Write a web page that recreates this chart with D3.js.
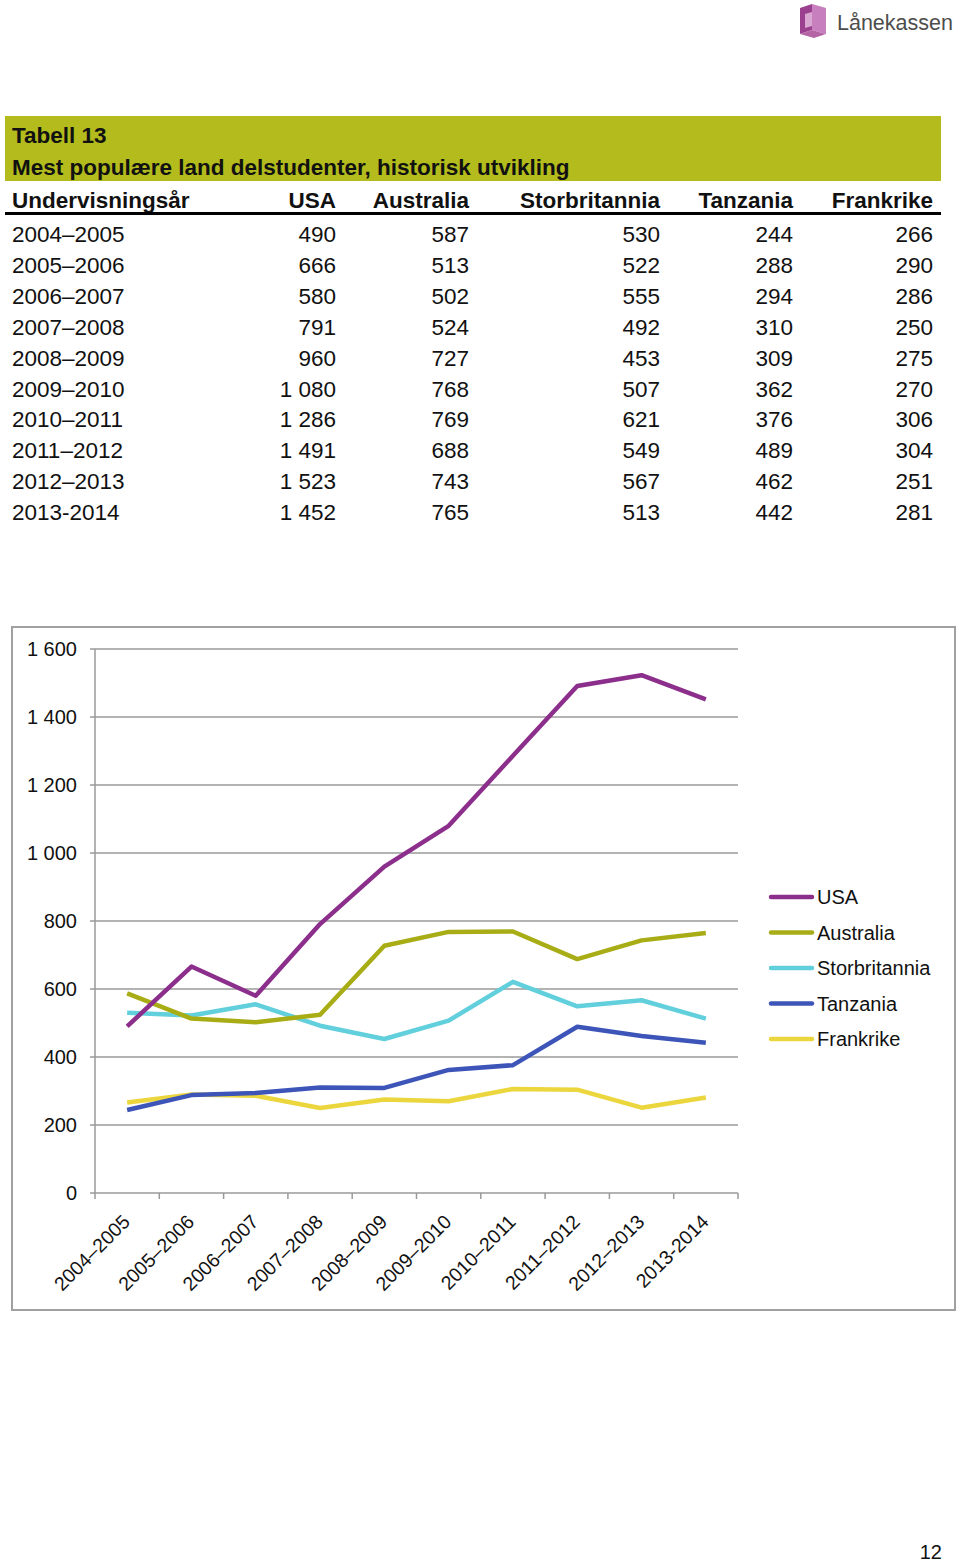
<!DOCTYPE html>
<html><head><meta charset="utf-8">
<script src="https://cdn.jsdelivr.net/npm/d3@7"></script>
<style>
html,body{margin:0;padding:0;background:#fff;}
svg{display:block;font-family:"Liberation Sans",Arial,sans-serif;}
</style></head>
<body>
<svg id="c" width="960" height="1564"></svg>
<script>
const categories = ["2004–2005","2005–2006","2006–2007","2007–2008","2008–2009","2009–2010","2010–2011","2011–2012","2012–2013","2013-2014"];
const seriesNames = ["USA","Australia","Storbritannia","Tanzania","Frankrike"];
const usa = [490,666,580,791,960,1080,1286,1491,1523,1452];
const australia = [587,513,502,524,727,768,769,688,743,765];
const storbritannia = [530,522,555,492,453,507,621,549,567,513];
const tanzania = [244,288,294,310,309,362,376,489,462,442];
const frankrike = [266,290,286,250,275,270,306,304,251,281];
const colors = ["#8c2f8c","#a8ad16","#62cfdc","#3d55b8","#ecd63e"];
const yTicks = [0,200,400,600,800,1000,1200,1400,1600];
const titleLines = ["Tabell 13","Mest populære land delstudenter, historisk utvikling"];
const headerLabel = "Undervisningsår";

const values = [usa,australia,storbritannia,tanzania,frankrike];
const fmt = v => d3.format(",")(v).replace(/,/g," ");

const svg = d3.select("#c");

// Logo
const logo = svg.append("g");
logo.append("path").attr("d","M800,8 L812,4 L812,30 L800,34 Z").attr("fill","#9b3f8f");
logo.append("path").attr("d","M812,4 L826,8 L826,34 L812,30 Z").attr("fill","#c77fbd");
logo.append("path").attr("d","M800,34 L812,30 L826,34 L814,38 Z").attr("fill","#b565a6");
logo.append("path").attr("d","M805,14 L812,12 L812,26 L805,28 Z").attr("fill","#d9a7d1");
logo.append("text").attr("x",837).attr("y",30).attr("font-size",21.5).attr("fill","#4d4d4d").text("Lånekassen");

// Table
const tx0 = 5, tx1 = 941;
svg.append("rect").attr("x",tx0).attr("y",116).attr("width",tx1-tx0).attr("height",65).attr("fill","#b3bc1c");
svg.selectAll(".tt").data(titleLines).enter().append("text")
  .attr("x",12).attr("y",(d,i)=>143+i*32).attr("font-size",22.5).attr("font-weight","bold").attr("fill","#111").text(d=>d);

const colRight = [336,469,660,793,933];
const hdr = svg.append("g").attr("font-size",22.5).attr("font-weight","bold").attr("fill","#111");
hdr.append("text").attr("x",12).attr("y",208).text(headerLabel);
seriesNames.forEach((n,i)=>hdr.append("text").attr("x",colRight[i]).attr("y",208).attr("text-anchor","end").text(n));
svg.append("rect").attr("x",tx0).attr("y",212).attr("width",tx1-tx0).attr("height",3).attr("fill","#000");

const rowY = i => 242 + i*30.9;
const body = svg.append("g").attr("font-size",22.5).attr("fill","#111");
categories.forEach((c,r)=>{
  body.append("text").attr("x",12).attr("y",rowY(r)).text(c);
  values.forEach((vals,s)=>body.append("text").attr("x",colRight[s]).attr("y",rowY(r)).attr("text-anchor","end").text(fmt(vals[r])));
});

// Chart
svg.append("rect").attr("x",12).attr("y",627).attr("width",943).attr("height",683)
  .attr("fill","none").attr("stroke","#a0a0a0").attr("stroke-width",2);

const x = d3.scaleBand().domain(categories).range([95,738]);
const y = d3.scaleLinear().domain([0,1600]).range([1193,649]);
const grid = "#9a9a9a";

const g = svg.append("g");
g.selectAll(".grid").data(yTicks.filter(t=>t>0)).enter().append("line")
  .attr("x1",90).attr("x2",738).attr("y1",d=>y(d)).attr("y2",d=>y(d))
  .attr("stroke",grid).attr("stroke-width",1.5);
g.append("line").attr("x1",95).attr("x2",95).attr("y1",y(1600)).attr("y2",y(0)).attr("stroke",grid).attr("stroke-width",1.5);
g.append("line").attr("x1",90).attr("x2",738).attr("y1",y(0)).attr("y2",y(0)).attr("stroke",grid).attr("stroke-width",1.5);
const bounds = categories.map(c=>x(c)).concat([x.range()[1]]);
g.selectAll(".xt").data(bounds).enter().append("line")
  .attr("x1",d=>d).attr("x2",d=>d).attr("y1",y(0)).attr("y2",y(0)+6).attr("stroke",grid).attr("stroke-width",1.5);
g.selectAll(".yl").data(yTicks).enter().append("text")
  .attr("x",77).attr("y",d=>y(d)).attr("dy","0.36em").attr("text-anchor","end")
  .attr("font-size",20).attr("fill","#111").text(d=>fmt(d));
g.selectAll(".xl").data(categories).enter().append("text")
  .attr("transform",d=>`translate(${x(d)+x.bandwidth()/2+4},1223) rotate(-45)`)
  .attr("text-anchor","end").attr("font-size",19.5).attr("fill","#111").text(d=>d);

const line = d3.line().x((d,i)=>x(categories[i])+x.bandwidth()/2).y(d=>y(d));
for (let s = values.length-1; s>=0; s--) {
  g.append("path").datum(values[s]).attr("d",line).attr("fill","none")
   .attr("stroke",colors[s]).attr("stroke-width",4.5).attr("stroke-linejoin","round");
}

// legend
const lg = svg.append("g");
seriesNames.forEach((n,i)=>{
  const ly = 897 + i*35.5;
  lg.append("line").attr("x1",771).attr("x2",812).attr("y1",ly).attr("y2",ly)
    .attr("stroke",colors[i]).attr("stroke-width",4.5).attr("stroke-linecap","round");
  lg.append("text").attr("x",817).attr("y",ly).attr("dy","0.36em").attr("font-size",20).attr("fill","#111").text(n);
});

// page number
svg.append("text").attr("x",942).attr("y",1559).attr("text-anchor","end").attr("font-size",20).attr("fill","#111").text("12");
</script>
</body></html>
